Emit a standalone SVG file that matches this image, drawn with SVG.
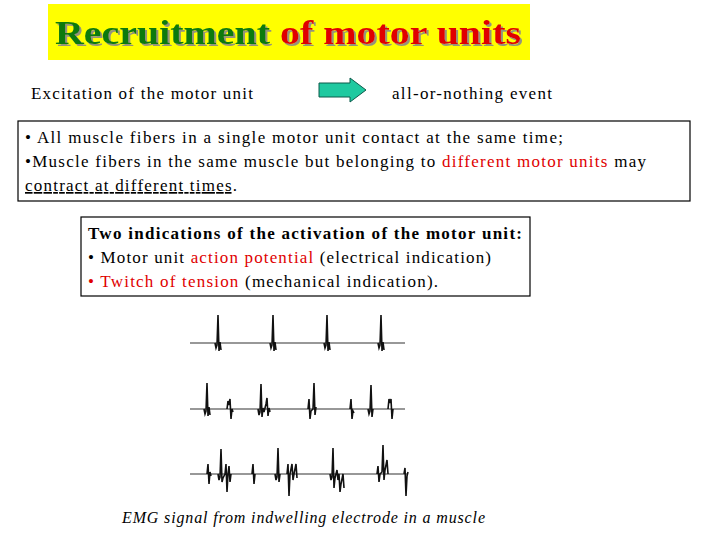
<svg xmlns="http://www.w3.org/2000/svg" width="720" height="540" viewBox="0 0 720 540">
<defs>
<filter id="sh" x="-5%" y="-20%" width="110%" height="140%"><feDropShadow dx="2" dy="2" stdDeviation="0.6" flood-color="#888" flood-opacity="0.9"/></filter>
</defs>
<style>
.f{font-family:"Liberation Serif","Times New Roman","DejaVu Serif",serif}
.t{font-size:17px;fill:#000}
.red{fill:#e00000}
.bx{fill:#fff;stroke:#000;stroke-width:1.2}
.base{stroke:#333;stroke-width:1.2;fill:none}
.sp{stroke:#111;stroke-width:1.6;fill:none;stroke-linejoin:miter}
</style>
<rect width="720" height="540" fill="#fff"/>
<g id="title">
<rect x="48" y="4" width="482" height="56" fill="#ffff00"/>
<text class="f" x="55" y="44" font-size="34" font-weight="bold" fill="#0d7a0d" filter="url(#sh)" textLength="466" lengthAdjust="spacingAndGlyphs">Recruitment <tspan fill="#e00000">of motor units</tspan></text>
</g>
<g id="excitation"><text class="f t" x="31" y="99" textLength="222">Excitation of the motor unit</text></g>
<g id="connectors">
<path d="M319,83 H350 V78 L366,90 L350,102 V97 H319 Z" fill="#1fc9a0" stroke="#0d5a4a" stroke-width="1"/>
</g>
<g id="allornothing"><text class="f t" x="392" y="99" textLength="160">all-or-nothing event</text></g>
<g id="box1">
<rect class="bx" x="18" y="121" width="672" height="80"/>
<text class="f t" x="25" y="143" textLength="538">• All muscle fibers in a single motor unit contact at the same time;</text>
<text class="f t" x="25" y="167" textLength="621">•Muscle fibers in the same muscle but belonging to <tspan class="red">different motor units</tspan> may</text>
<text class="f t" x="25" y="191" textLength="212"><tspan text-decoration="underline">contract at different times</tspan>.</text>
</g>
<g id="box2">
<rect class="bx" x="81" y="217" width="449" height="79"/>
<text class="f t" x="88" y="239" font-weight="bold" textLength="434">Two indications of the activation of the motor unit:</text>
<text class="f t" x="88" y="263" textLength="403">• Motor unit <tspan class="red">action potential</tspan> (electrical indication)</text>
<text class="f t" x="88" y="287" textLength="350"><tspan class="red">• Twitch of tension</tspan> (mechanical indication).</text>
</g>
<g id="emg">
<path class="base" d="M190,343 H405 M190,409 H405 M190,474 H408"/>
<path class="sp" d="M215,343 l1,5 l1,-3 l1,-30 l1,36 l1,-9 l1,8
M270,343 l1,5 l1,-3 l1,-30 l1,36 l1,-9 l1,8
M324,343 l1,5 l1,-3 l1,-30 l1,36 l1,-9 l1,8
M378,343 l1,5 l1,-3 l1,-30 l1,36 l1,-9 l1,8
M204,409 l1,5 l1,-3 l1,-28 l1,33 l1,-9 l1,8
M227,409 l1,-8 l1,4 l1,-6 l1,20 l1,-10 l1,3
M258,409 l1,6 l1,-3 l1,-28 l1,33 l1,-9 l1,4 l2,-8 l1,-6 l1,18 l1,-8 l1,4
M308,409 l1,-10 l1,20 l1,-8 l2,-2 l1,-26 l1,32 l1,-8
M350,409 l1,-10 l1,20 l1,-8 l1,2
M368,409 l1,5 l1,-3 l1,-26 l1,32 l1,-8
M388,409 l1,-10 l1,4 l1,-4 l1,20 l1,-10
M207,474 l1,-10 l1,20 l1,-12 l1,4
M218,474 l1,6 l1,-3 l1,-28 l1,33 l1,-4 l2,-4 l1,-10 l1,28 l1,-18 l1,-8 l1,16 l1,-8
M252,474 l1,-10 l1,20 l1,-10
M275,474 l1,6 l1,-3 l1,-29 l1,34 l1,-8
M287,474 l1,-10 l1,32 l1,-22 l2,-10 l1,16 l1,-6 l2,-10 l1,14
M330,474 l1,6 l1,-3 l1,-29 l1,40 l1,-10 l2,-8 l1,10 l1,-6 l1,18 l1,-8 l2,-10 l1,14
M377,474 l1,-8 l1,16 l1,-8 l2,-2 l1,-27 l1,35 l1,-10 l2,-10 l1,14
M404,474 l1,-6 l1,28 l1,-20 l1,-4"/>
</g>
<g id="caption"><text class="f" x="122" y="523" font-size="16" font-style="italic" fill="#000" textLength="363">EMG signal from indwelling electrode in a muscle</text></g>
</svg>
